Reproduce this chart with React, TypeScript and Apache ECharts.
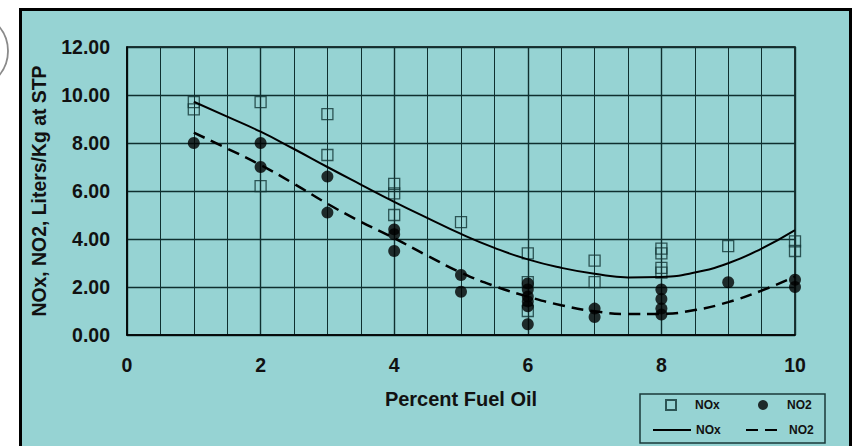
import React, { useEffect, useRef } from 'react';
import * as echarts from 'echarts';

const noxX = [1, 1, 2, 2, 3, 3, 4, 4, 4, 5, 6, 6, 6, 7, 7, 8, 8, 8, 8, 9, 10, 10];
const noxY = [9.7, 9.4, 9.7, 6.2, 9.2, 7.5, 6.3, 5.9, 5.0, 4.7, 3.4, 2.2, 1.0, 3.1, 2.2, 3.6, 3.4, 2.8, 2.6, 3.7, 3.9, 3.5];
const no2X = [1, 2, 2, 3, 3, 4, 4, 4, 5, 5, 6, 6, 6, 6, 6, 6, 7, 7, 8, 8, 8, 8, 9, 10, 10];
const no2Y = [8.0, 8.0, 7.0, 6.6, 5.1, 4.4, 4.2, 3.5, 2.5, 1.8, 2.15, 1.9, 1.6, 1.4, 1.2, 0.45, 1.1, 0.75, 1.9, 1.5, 1.1, 0.85, 2.2, 2.3, 2.0];
const fitX = [1, 1.5, 2, 2.5, 3, 3.5, 4, 4.5, 5, 5.5, 6, 6.5, 7, 7.5, 8, 8.5, 9, 9.5, 10];
const noxFit = [9.72, 9.1, 8.47, 7.75, 7.0, 6.27, 5.55, 4.87, 4.21, 3.63, 3.15, 2.8, 2.55, 2.4, 2.42, 2.6, 2.99, 3.6, 4.37];
const no2Fit = [8.43, 7.77, 7.08, 6.3, 5.47, 4.72, 4.03, 3.3, 2.6, 2.04, 1.6, 1.24, 0.99, 0.87, 0.88, 1.04, 1.37, 1.85, 2.43];
const xTicks = [0, 2, 4, 6, 8, 10];
const yTicks = [0, 2, 4, 6, 8, 10, 12];

const FONT = '"Liberation Sans", Arial, sans-serif';
const GRIDC = '#0f2f2f';
const LEG_TEXT = { fontSize: 12, fontWeight: 'bold', color: '#111', fontFamily: FONT };

export default function App() {
  const ref = useRef<HTMLDivElement>(null);
  useEffect(() => {
    if (!ref.current) return;
    const chart = echarts.init(ref.current, null, { renderer: 'svg' });
    const zip = (xs: number[], ys: number[]) => xs.map((x, i) => [x, ys[i]]);
    const leg = (name: string, left: number, top: number, w: number, extra: any = {}) => ({
      left, top, padding: 0, itemWidth: w, itemHeight: 10, selectedMode: false,
      data: [name], textStyle: LEG_TEXT, formatter: (n: string) => n.replace(' fit', ''), ...extra,
    });
    chart.setOption({
      animation: false,
      backgroundColor: '#96d3d3',
      grid: { left: 127, right: 59, top: 47, bottom: 111, show: true, borderColor: '#000', borderWidth: 1.5, backgroundColor: 'transparent' },
      xAxis: {
        type: 'value',
        min: xTicks[0],
        max: xTicks[xTicks.length - 1],
        interval: 2,
        axisLine: { show: true, lineStyle: { color: '#000', width: 1.5 } },
        axisTick: { show: false },
        splitLine: { show: true, lineStyle: { color: GRIDC, width: 1.4 } },
        minorTick: { show: false, splitNumber: 4 },
        minorSplitLine: { show: true, lineStyle: { color: GRIDC, width: 1 } },
        axisLabel: { margin: 20, fontSize: 19.5, fontWeight: 'bold', color: '#111', fontFamily: FONT },
        name: 'Percent Fuel Oil',
        nameLocation: 'middle',
        nameGap: 54,
        nameTextStyle: { fontSize: 20, fontWeight: 'bold', color: '#111', fontFamily: FONT },
      },
      yAxis: {
        type: 'value',
        min: yTicks[0],
        max: yTicks[yTicks.length - 1],
        interval: 2,
        axisLine: { show: true, lineStyle: { color: '#000', width: 1.5 } },
        axisTick: { show: false },
        splitLine: { show: true, lineStyle: { color: GRIDC, width: 1.4 } },
        axisLabel: { margin: 17, fontSize: 19.5, fontWeight: 'bold', color: '#111', fontFamily: FONT, formatter: (v: number) => v.toFixed(2) },
        name: 'NOx, NO2, Liters/Kg at STP',
        nameLocation: 'middle',
        nameRotate: 90,
        nameGap: 79,
        nameTextStyle: { fontSize: 19.4, fontWeight: 'bold', color: '#111', fontFamily: FONT },
      },
      legend: [
        leg('NOx', 665, 399, 38, { icon: 'path://M0,0H10V10H0Z' }),
        leg('NO2', 758, 399, 38, { icon: 'circle' }),
        leg('NOx fit', 652, 424, 38, { itemStyle: { opacity: 0 } }),
        leg('NO2 fit', 745, 424, 38, { itemStyle: { opacity: 0 } }),
      ],
      graphic: [
        { type: 'rect', shape: { x: 640, y: 394, width: 185, height: 49 }, style: { fill: 'transparent', stroke: '#1a3a3a', lineWidth: 1.5 }, z: 50 },
        { type: 'rect', shape: { x: 0, y: 0, width: 20, height: 446 }, style: { fill: '#fff' }, z: 40 },
        { type: 'rect', shape: { x: 0, y: 0, width: 854, height: 8 }, style: { fill: '#fff' }, z: 40 },
        { type: 'rect', shape: { x: 852, y: 0, width: 2, height: 446 }, style: { fill: '#fff' }, z: 40 },
        { type: 'rect', shape: { x: 20.5, y: 9.5, width: 830, height: 460 }, style: { fill: 'transparent', stroke: '#000', lineWidth: 3 }, z: 60 },
        { type: 'arc', shape: { cx: -30, cy: 51, r: 38, startAngle: -Math.PI / 2, endAngle: Math.PI / 2 }, style: { stroke: '#8a8a8a', lineWidth: 1.8, fill: 'none' }, z: 60 },
      ],
      series: [
        {
          name: 'NOx', type: 'scatter', symbol: 'rect', symbolSize: 11,
          itemStyle: { color: 'rgba(0,0,0,0)', borderColor: '#123535', borderWidth: 1.3 },
          data: zip(noxX, noxY), z: 3,
        },
        {
          name: 'NOx fit', type: 'line', smooth: true, symbol: 'none',
          lineStyle: { color: '#000', width: 2 }, itemStyle: { color: '#000' },
          data: zip(fitX, noxFit), z: 4,
        },
        {
          name: 'NO2 fit', type: 'line', smooth: true, symbol: 'none',
          lineStyle: { color: '#000', width: 2.5, type: [12, 7] }, itemStyle: { color: '#000' },
          data: zip(fitX, no2Fit), z: 4,
        },
        {
          name: 'NO2', type: 'scatter', symbol: 'circle', symbolSize: 12,
          itemStyle: { color: '#000' },
          data: zip(no2X, no2Y), z: 5,
        },
      ],
    });
    return () => chart.dispose();
  }, []);
  return <div ref={ref} style={{ position: 'fixed', left: 0, top: 0, width: 854, height: 446 }} />;
}
